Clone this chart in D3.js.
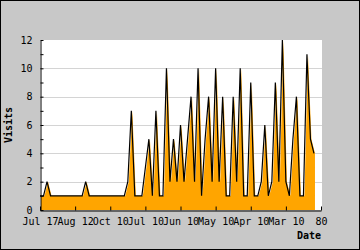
<!DOCTYPE html>
<html>
<head>
<meta charset="utf-8">
<script src="https://cdn.jsdelivr.net/npm/d3@7"></script>
<style>
  body { margin: 0; background: #fff; }
  svg text { font-family: 'DejaVu Sans Mono', monospace; font-size: 10px; fill: #000; }
</style>
</head>
<body>
<svg id="chart" width="360" height="250"></svg>
<script>
// visits per period, one value per step on the x index
const visits = [
  1, 1, 2, 1, 1, 1, 1, 1, 1, 1,
  1, 1, 1, 2, 1, 1, 1, 1, 1, 1,
  1, 1, 1, 1, 1, 2, 7, 1, 1, 1,
  3, 5, 1, 7, 1, 1, 10, 2, 5, 2,
  6, 2, 5, 8, 2, 10, 1, 5, 8, 2,
  10, 2, 8, 1, 1, 8, 2, 10, 1, 1,
  9, 1, 1, 2, 6, 1, 2, 9, 2, 12,
  2, 1, 5, 8, 1, 1, 11, 5, 4
]
const xTickValues = [0, 10, 20, 30, 40, 50, 60, 70, 80]
const xTickLabels = ['Jul 17', 'Aug 12', 'Oct 10', 'Jul 10', 'Jun 10', 'May 10', 'Apr 10', 'Mar 10', '80']
const yGridValues = [2, 4, 6, 8, 10]

const width = 360
const height = 250
const margin = { top: 40, right: 39, bottom: 40, left: 40 }

const svg = d3.select('#chart')

svg.append('rect')
  .attr('x', 0.5).attr('y', 0.5)
  .attr('width', width - 1).attr('height', height - 1)
  .attr('fill', '#c8c8c8')
  .attr('stroke', '#000')

const x = d3.scaleLinear().domain([0, 80]).range([margin.left, width - margin.right])
const y = d3.scaleLinear().domain([0, 12]).range([height - margin.bottom, margin.top])

svg.append('rect')
  .attr('x', margin.left).attr('y', margin.top)
  .attr('width', width - margin.right - margin.left + 1)
  .attr('height', height - margin.bottom - margin.top)
  .attr('fill', '#fff')

// grid
svg.append('g')
  .selectAll('line')
  .data(yGridValues)
  .enter()
  .append('line')
  .attr('x1', margin.left).attr('x2', width - margin.right + 1)
  .attr('y1', d => Math.round(y(d)) + 0.5)
  .attr('y2', d => Math.round(y(d)) + 0.5)
  .attr('stroke', '#d4d4d4')

const area = d3.area()
  .x((d, i) => x(i))
  .y0(y(0))
  .y1(d => y(d))

const line = d3.line()
  .x((d, i) => x(i))
  .y(d => y(d))

svg.append('path')
  .datum(visits)
  .attr('d', area)
  .attr('transform', 'translate(1,0)')
  .attr('fill', '#ffa500')

svg.append('path')
  .datum(visits)
  .attr('d', line)
  .attr('fill', 'none')
  .attr('stroke', '#000')
  .attr('stroke-width', 1.2)
  .attr('stroke-linejoin', 'miter')

// axes
const yAxis = d3.axisLeft(y)
  .ticks(12)
  .tickSizeInner(-3)
  .tickSizeOuter(0)
  .tickPadding(8)
  .tickFormat(d => (d % 2 === 0 ? d : ''))

const xAxis = d3.axisBottom(x)
  .tickValues(xTickValues)
  .tickSizeInner(-4)
  .tickSizeOuter(0)
  .tickPadding(7)
  .tickFormat((d, i) => xTickLabels[i])

const gy = svg.append('g')
  .attr('transform', `translate(${margin.left + 0.5},0)`)
  .call(yAxis)

const gx = svg.append('g')
  .attr('transform', `translate(0,${height - margin.bottom + 0.5})`)
  .call(xAxis)

svg.selectAll('.tick line').attr('stroke', '#000')
svg.selectAll('.domain').attr('stroke', '#000')
svg.selectAll('.tick text')
  .attr('font-family', null)
  .attr('font-size', null)
  .attr('fill', '#000')

svg.append('text')
  .attr('transform', `translate(12,${(margin.top + height - margin.bottom) / 2}) rotate(-90)`)
  .attr('text-anchor', 'middle')
  .attr('font-weight', 'bold')
  .text('Visits')

svg.append('text')
  .attr('x', width - margin.right)
  .attr('y', 239)
  .attr('text-anchor', 'end')
  .attr('font-weight', 'bold')
  .text('Date')
</script>
</body>
</html>
